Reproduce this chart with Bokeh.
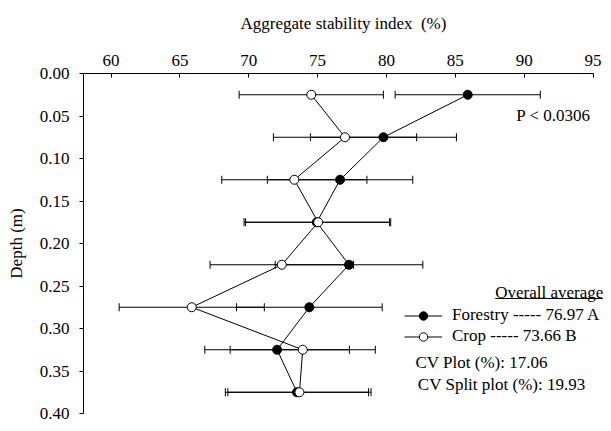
from bokeh.plotting import figure
from bokeh.models import (Range1d, FixedTicker, PrintfTickFormatter, Whisker, TeeHead,
                          ColumnDataSource, Legend, LegendItem, Label)
from bokeh.embed import file_html
from bokeh.resources import INLINE

# ---- data ----
depth = [0.025, 0.075, 0.125, 0.175, 0.225, 0.275, 0.325, 0.375]
forestry = [85.90, 79.78, 76.63, 74.94, 77.28, 74.40, 72.06, 73.50]
forestry_err = [5.27, 5.30, 5.28, 5.28, 5.36, 5.29, 5.25, 5.20]
crop = [74.54, 76.99, 73.31, 75.04, 72.40, 65.86, 73.92, 73.68]
crop_err = [5.24, 5.20, 5.27, 5.27, 5.21, 5.27, 5.27, 5.20]
x_ticks = [60, 65, 70, 75, 80, 85, 90, 95]
y_ticks = [0.00, 0.05, 0.10, 0.15, 0.20, 0.25, 0.30, 0.35, 0.40]
legend_labels = ["Forestry ----- 76.97 A", "Crop ----- 73.66 B"]
legend_title = "Overall average"
p_text = "P < 0.0306"
cv_texts = ["CV Plot (%): 17.06", "CV Split plot (%): 19.93"]
x_title = "Aggregate stability index \u00a0(%)"
y_title = "Depth (m)"

FONT = "Liberation Serif"
FS = "17px"

p = figure(width=603, height=423,
           x_range=Range1d(58, 95.76), y_range=Range1d(0.40, 0.0),
           x_axis_location="above", output_backend="svg", toolbar_location=None,
           min_border_left=83, min_border_right=0, min_border_top=73, min_border_bottom=10)
p.outline_line_color = None
p.xgrid.visible = False
p.ygrid.visible = False
p.background_fill_color = "white"
p.border_fill_color = "white"

# x axis (top)
xa = p.xaxis[0]
xa.ticker = FixedTicker(ticks=x_ticks)
xa.bounds = (58, 95)
xa.axis_label = x_title
xa.major_tick_in = 4
xa.major_tick_out = 0
xa.minor_tick_line_color = None
xa.major_label_standoff = 8
xa.axis_label_standoff = 19
# y axis (left)
ya = p.yaxis[0]
ya.ticker = FixedTicker(ticks=y_ticks)
ya.formatter = PrintfTickFormatter(format="%.2f")
ya.axis_label = y_title
ya.major_tick_in = 0
ya.major_tick_out = 4
ya.minor_tick_line_color = None
ya.major_label_standoff = 10
ya.axis_label_standoff = 11
for ax in (xa, ya):
    ax.axis_line_color = "black"
    ax.major_tick_line_color = "black"
    ax.major_label_text_font = FONT
    ax.major_label_text_font_size = FS
    ax.major_label_text_color = "black"
    ax.axis_label_text_font = FONT
    ax.axis_label_text_font_size = FS
    ax.axis_label_text_font_style = "normal"
    ax.axis_label_text_color = "black"

# error bars
def whisk(vals, errs):
    src = ColumnDataSource(dict(depth=depth,
                                lower=[v - e for v, e in zip(vals, errs)],
                                upper=[v + e for v, e in zip(vals, errs)]))
    w = Whisker(source=src, base="depth", lower="lower", upper="upper", dimension="width",
                line_color="black", line_width=1, level="underlay",
                lower_head=TeeHead(size=8, line_color="black", line_width=1),
                upper_head=TeeHead(size=8, line_color="black", line_width=1))
    p.add_layout(w)

whisk(forestry, forestry_err)
whisk(crop, crop_err)

fl = p.line(forestry, depth, line_color="black", line_width=1)
cl = p.line(crop, depth, line_color="black", line_width=1)
fm = p.scatter(forestry, depth, marker="circle", size=9, fill_color="black", line_color="black", line_width=1)
cm = p.scatter(crop, depth, marker="circle", size=9, fill_color="white", line_color="black", line_width=1)

legend = Legend(items=[LegendItem(label=legend_labels[0], renderers=[fl, fm]),
                       LegendItem(label=legend_labels[1], renderers=[cl, cm])],
                location=(321, 66.5), border_line_color=None, background_fill_alpha=0,
                padding=0, margin=0, spacing=0, glyph_width=38, glyph_height=21,
                label_height=21, label_standoff=10, label_text_font=FONT,
                label_text_font_size=FS, label_text_color="black")
p.add_layout(legend)

def lab(x, y, t, align="left"):
    p.add_layout(Label(x=x, y=y, text=t, text_align=align, text_baseline="alphabetic",
                       text_font=FONT, text_font_size=FS, text_color="black"))

lab(94.82, 0.0494, p_text, "right")
lab(87.90, 0.2573, legend_title)
p.segment(x0=[87.90], y0=[0.2647], x1=[95.74], y1=[0.2647], line_color="black", line_width=1)
lab(82.11, 0.3400, cv_texts[0])
lab(82.28, 0.3662, cv_texts[1])

open("out.html", "w").write(file_html(p, INLINE))
